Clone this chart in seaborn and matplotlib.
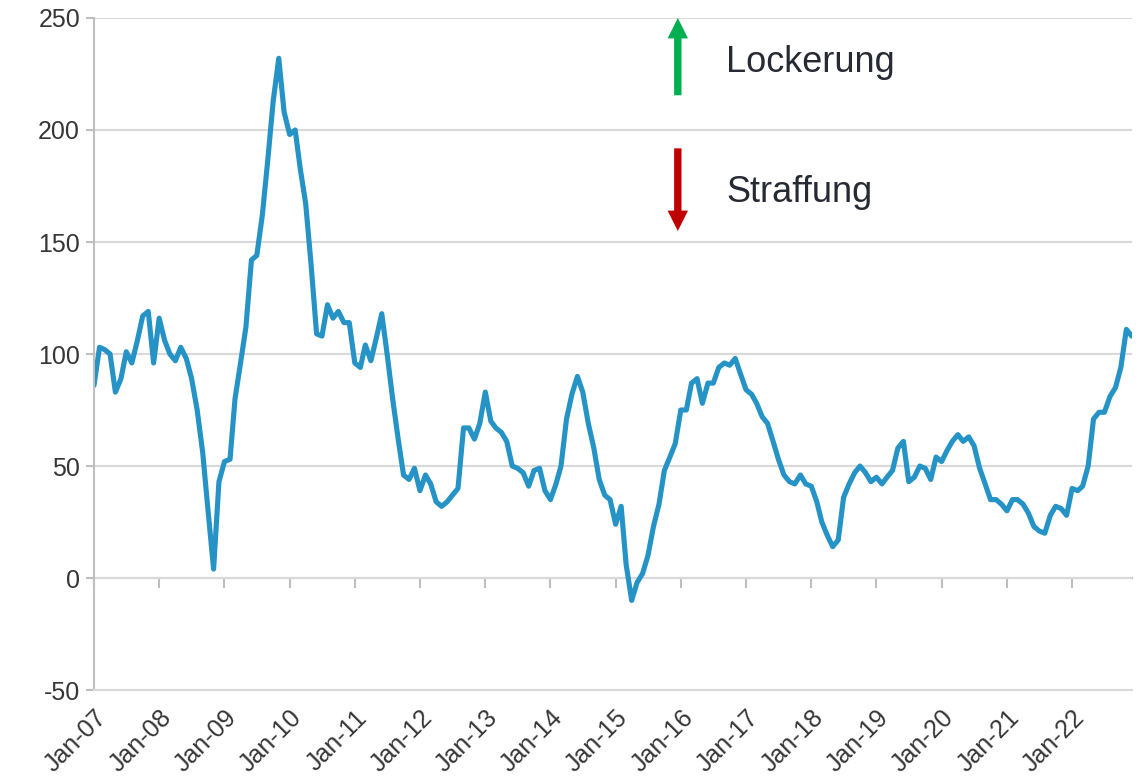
import pandas as pd
import seaborn as sns
import matplotlib.pyplot as plt

# monthly index values, Jan 2007 - Dec 2022
start_month = "2007-01-01"
values = [
    86, 103, 102, 100, 83, 89, 101, 96, 106, 117, 119, 96,
    116, 106, 100, 97, 103, 98, 89, 75, 56, 30, 4, 43,
    52, 53, 80, 96, 112, 142, 144, 162, 187, 213, 232, 208,
    198, 200, 183, 167, 140, 109, 108, 122, 116, 119, 114, 114,
    96, 94, 104, 97, 107, 118, 100, 80, 62, 46, 44, 49,
    39, 46, 42, 34, 32, 34, 37, 40, 67, 67, 62, 69,
    83, 70, 67, 65, 61, 50, 49, 47, 41, 48, 49, 39,
    35, 42, 50, 71, 82, 90, 83, 69, 58, 44, 37, 35,
    24, 32, 6, -10, -2, 2, 10, 23, 33, 48, 54, 60,
    75, 75, 87, 89, 78, 87, 87, 94, 96, 95, 98, 91,
    84, 82, 78, 72, 69, 61, 53, 46, 43, 42, 46, 42,
    41, 34, 25, 19, 14, 17, 36, 42, 47, 50, 47, 43,
    45, 42, 45, 48, 58, 61, 43, 45, 50, 49, 44, 54,
    52, 57, 61, 64, 61, 63, 59, 49, 42, 35, 35, 33,
    30, 35, 35, 33, 29, 23, 21, 20, 28, 32, 31, 28,
    40, 39, 41, 50, 71, 74, 74, 81, 85, 94, 111, 108,
]
y_ticks = [-50, 0, 50, 100, 150, 200, 250]
up_label = "Lockerung"
down_label = "Straffung"

dates = pd.date_range(start_month, periods=len(values), freq="MS")
df = pd.DataFrame({"date": dates, "value": values})
year_ticks = pd.date_range(start_month, dates[-1], freq="YS")
year_labels = [d.strftime("%b-%y") for d in year_ticks]

sns.set_theme(style="white")
plt.rcParams["font.family"] = ["Liberation Sans", "DejaVu Sans"]

grey_txt = "#363636"
grid_col = "#D9D9D9"
axis_col = "#BFBFBF"

fig = plt.figure(figsize=(11.42, 7.82), dpi=100)
ax = fig.add_axes([0.0823, 0.1176, 0.9087, 0.8594])

sns.lineplot(data=df, x="date", y="value", ax=ax, color="#2593C6", linewidth=3.7)

ax.set_xlim(dates[0], dates[-1])
ax.set_ylim(y_ticks[0], y_ticks[-1])
ax.set_yticks(y_ticks)
ax.set_yticklabels([str(t) for t in y_ticks], fontsize=18, color=grey_txt)
ax.set_xticks(year_ticks)
ax.set_xticklabels(year_labels, rotation=45, ha="right", rotation_mode="anchor",
                   fontsize=18, color=grey_txt)
ax.set_xlabel("")
ax.set_ylabel("")

ax.grid(axis="y", color=grid_col, linewidth=1.5)
ax.set_axisbelow(True)
for side in ["top", "right"]:
    ax.spines[side].set_visible(False)
ax.spines["left"].set_color(axis_col)
ax.spines["left"].set_linewidth(1.5)
ax.spines["bottom"].set_color(grid_col)
ax.spines["bottom"].set_linewidth(1.5)
ax.tick_params(axis="y", left=True, length=6, width=1.5, color=axis_col, pad=4)
ax.tick_params(axis="x", bottom=False, pad=5)

# category axis crosses at zero: tick marks there, labels stay at the bottom
zero_frac = (0 - y_ticks[0]) / (y_ticks[-1] - y_ticks[0])
sec = ax.secondary_xaxis(zero_frac)
sec.set_xticks(year_ticks)
sec.set_xticklabels([])
sec.tick_params(axis="x", direction="out", length=7, width=1.5, color=axis_col)
sec.spines["bottom"].set_color(axis_col)
sec.spines["bottom"].set_linewidth(1.5)

# direction arrows with labels
arrow_style = "simple,head_length=1.05,head_width=1.05,tail_width=0.38"
ax.annotate("", xy=(0.5626, 1.0), xytext=(0.5626, 0.885), xycoords="axes fraction",
            arrowprops=dict(arrowstyle=arrow_style, mutation_scale=14,
                            color="#00B050", lw=0, shrinkA=0, shrinkB=0))
ax.annotate("", xy=(0.5626, 0.683), xytext=(0.5626, 0.806), xycoords="axes fraction",
            arrowprops=dict(arrowstyle=arrow_style, mutation_scale=14,
                            color="#C00000", lw=0, shrinkA=0, shrinkB=0))
ax.text(0.609, 0.934, up_label, transform=ax.transAxes, fontsize=26,
        color="#252A33", va="center", ha="left")
ax.text(0.609, 0.740, down_label, transform=ax.transAxes, fontsize=26,
        color="#252A33", va="center", ha="left")

fig.savefig("out.png", dpi=100)
